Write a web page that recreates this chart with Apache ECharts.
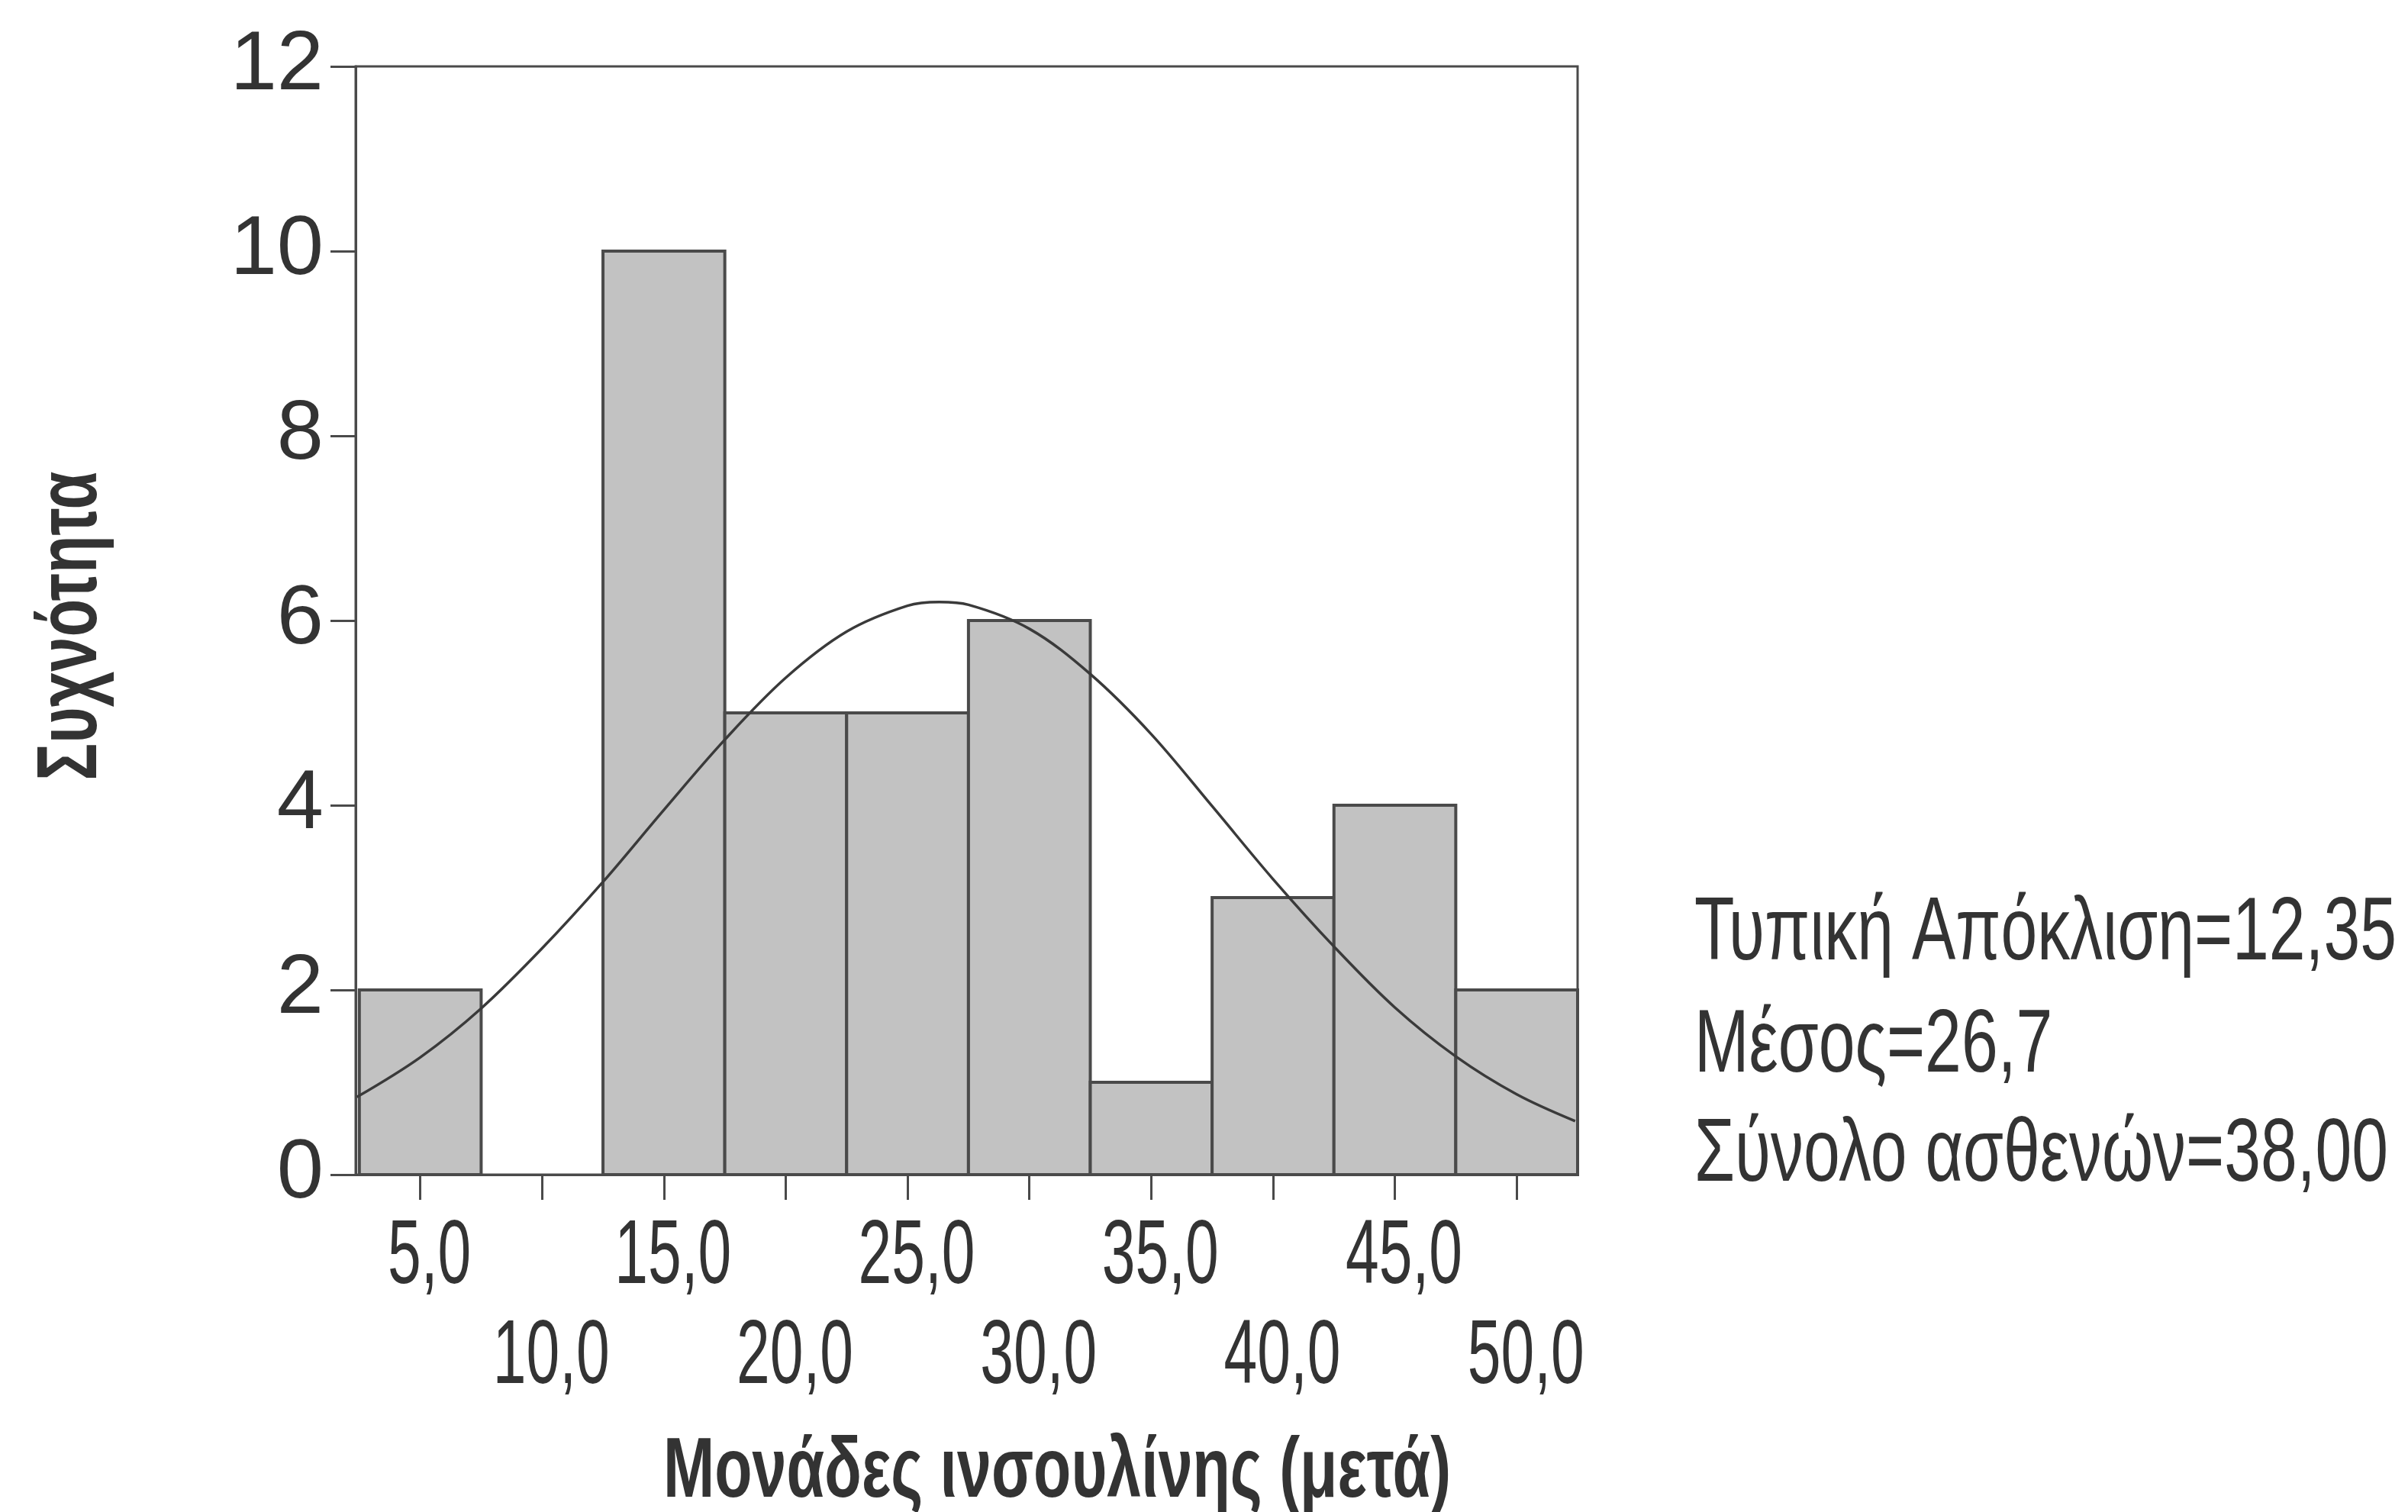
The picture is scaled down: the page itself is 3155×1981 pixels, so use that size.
<!DOCTYPE html>
<html>
<head>
<meta charset="utf-8">
<script src="https://cdn.jsdelivr.net/npm/echarts@6/dist/echarts.min.js"></script>
<style>
html,body{margin:0;padding:0;background:#fff;}
#chart{width:3155px;height:1981px;}
</style>
</head>
<body>
<div id="chart"></div>
<script>
// ---- data ----
const binCenters = [5, 10, 15, 20, 25, 30, 35, 40, 45, 50];
const binCounts  = [2, 0, 10, 5, 5, 6, 1, 3, 4, 2];
const binWidth = 5;
const curveX = [2.4, 5, 7.5, 10, 12.5, 15, 17.5, 20, 22.5, 25, 26.3, 27.5, 30, 32.5, 35, 37.5, 40, 42.5, 45, 47.5, 50, 52.4];
const curveY = [0.84, 1.27, 1.8, 2.45, 3.17, 3.95, 4.71, 5.38, 5.88, 6.16, 6.2, 6.17, 5.91, 5.42, 4.77, 3.99, 3.2, 2.47, 1.81, 1.28, 0.87, 0.58];
const xLabelsRow1 = [5, 15, 25, 35, 45];
const xLabelsRow2 = [10, 20, 30, 40, 50];
const yTicks = [0, 2, 4, 6, 8, 10, 12];
const xTitle = 'Μονάδες ινσουλίνης (μετά)';
const yTitle = 'Συχνότητα';
const statsLines = ['Τυπική Απόκλιση=12,35', 'Μέσος=26,7', 'Σύνολο ασθενών=38,00'];

const X_MIN = 2.35, X_MAX = 52.5;
const txt = '#333333';
const axisCol = '#4a4a4a';
const sans = '"Liberation Sans", Arial, Helvetica, sans-serif';
const fmt = v => Number(v).toFixed(1).replace('.', ',');

const mctx = document.createElement('canvas').getContext('2d');
function fitScale(text, font, width) {
  mctx.font = font;
  return width / mctx.measureText(text).width;
}

const chart = echarts.init(document.getElementById('chart'), null, {renderer: 'canvas'});

const histData = binCenters.map((c, i) => [c, binCounts[i]]);
const curveData = curveX.map((x, i) => [x, curveY[i]]);

const option = {
  backgroundColor: '#ffffff',
  animation: false,
  grid: {
    left: 466, top: 87, right: 1088, bottom: 442,
    show: true, borderColor: axisCol, borderWidth: 3, backgroundColor: 'transparent'
  },
  xAxis: {
    type: 'value', min: X_MIN, max: X_MAX, position: 'bottom',
    axisLine: {show: true, onZero: false, lineStyle: {color: axisCol, width: 3}},
    axisTick: {show: true, inside: false, length: 33, lineStyle: {color: axisCol, width: 3},
               customValues: binCenters},
    axisLabel: {show: false},
    splitLine: {show: false}
  },
  yAxis: {
    type: 'value', min: yTicks[0], max: yTicks[yTicks.length - 1], interval: 2,
    axisLine: {show: true, lineStyle: {color: axisCol, width: 3}},
    axisTick: {show: true, inside: false, length: 33, lineStyle: {color: axisCol, width: 3}},
    axisLabel: {show: true, margin: 42, color: txt, fontFamily: sans, fontSize: 110},
    splitLine: {show: false}
  },
  series: [
    {
      type: 'custom',
      data: histData,
      z: 2,
      renderItem: function (params, api) {
        const c = api.value(0), v = api.value(1);
        if (!v) return null;
        const p1 = api.coord([c - binWidth / 2, v]);
        const p2 = api.coord([c + binWidth / 2, 0]);
        return {
          type: 'rect',
          shape: {x: p1[0], y: p1[1], width: p2[0] - p1[0], height: p2[1] - p1[1]},
          style: {fill: '#c2c2c2', stroke: '#4a4a4a', lineWidth: 4}
        };
      }
    },
    {
      type: 'line',
      data: curveData,
      smooth: 0.35,
      symbol: 'none',
      z: 5,
      lineStyle: {color: '#3a3a3a', width: 3.5}
    }
  ]
};
chart.setOption(option);

// ---- texts (condensed look via horizontal scaling) ----
const tickFont = '118px ' + sans;
const tickScale = fitScale('15,0', tickFont, 153);
const statFont = '116px ' + sans;
const statScale = fitScale(statsLines[0], statFont, 920);
const xTitleFont = 'bold 112px ' + sans;
const xTitleScale = fitScale(xTitle, xTitleFont, 1032);
const yTitleFont = 'bold 112px ' + sans;
const yTitleScale = fitScale(yTitle, yTitleFont, 405);

const graphics = [];
function addTickLabels(values, yCenter) {
  values.forEach(v => {
    const px = chart.convertToPixel({xAxisIndex: 0}, v);
    graphics.push({
      type: 'text', x: px + 12, y: yCenter, scaleX: tickScale,
      style: {text: fmt(v), fill: txt, font: tickFont, align: 'center', verticalAlign: 'middle'}
    });
  });
}
addTickLabels(xLabelsRow1, 1648);
addTickLabels(xLabelsRow2, 1779);

graphics.push({
  type: 'text', x: 1385, y: 1930, scaleX: xTitleScale,
  style: {text: xTitle, fill: txt, font: xTitleFont, align: 'center', verticalAlign: 'middle'}
});
graphics.push({
  type: 'text', x: 95, y: 820, rotation: Math.PI / 2, scaleX: yTitleScale,
  style: {text: yTitle, fill: txt, font: yTitleFont, align: 'center', verticalAlign: 'middle'}
});
const statY = [1225, 1372, 1515];
statsLines.forEach((s, i) => {
  graphics.push({
    type: 'text', x: 2220, y: statY[i], scaleX: statScale,
    style: {text: s, fill: txt, font: statFont, align: 'left', verticalAlign: 'middle'}
  });
});
chart.setOption({graphic: graphics});
</script>
</body>
</html>
